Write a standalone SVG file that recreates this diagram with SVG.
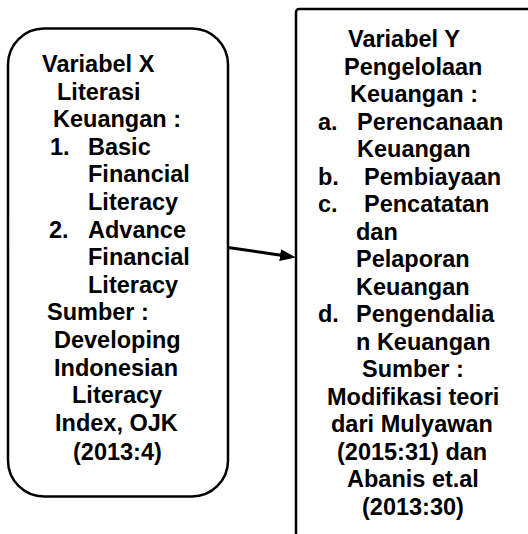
<svg xmlns="http://www.w3.org/2000/svg" width="528" height="534" viewBox="0 0 528 534">
<style>
.box{fill:#fff;stroke:#000;stroke-width:2.5}
.t{font-family:"Liberation Sans",Arial,sans-serif;font-weight:bold;font-size:23.5px;fill:#000}
.c{stroke:#000;stroke-width:3;fill:none}
</style>
<defs>
<marker id="ah" markerUnits="userSpaceOnUse" viewBox="0 0 16 12" markerWidth="16" markerHeight="12" refX="8" refY="6" orient="auto">
<path d="M0,0 L16,6 L0,12 z" fill="#000"/>
</marker>
</defs>
<rect width="528" height="534" fill="#fff"/>
<g id="nodeX">
<rect class="box" x="8" y="28.5" width="220" height="468" rx="36" ry="36"/>
<text class="t">
<tspan x="42" y="72">Variabel X</tspan>
<tspan x="57" y="99.6">Literasi</tspan>
<tspan x="53" y="127.2">Keuangan :</tspan>
<tspan x="50" y="154.8">1.</tspan><tspan x="88" y="154.8">Basic</tspan>
<tspan x="88" y="182.4">Financial</tspan>
<tspan x="88" y="210">Literacy</tspan>
<tspan x="49" y="237.6">2.</tspan><tspan x="88" y="237.6">Advance</tspan>
<tspan x="88" y="265.2">Financial</tspan>
<tspan x="88" y="292.8">Literacy</tspan>
<tspan x="47" y="320.4">Sumber :</tspan>
<tspan x="54" y="348">Developing</tspan>
<tspan x="54" y="375.6">Indonesian</tspan>
<tspan x="72" y="403.2">Literacy</tspan>
<tspan x="55" y="430.8">Index, OJK</tspan>
<tspan x="73" y="459.5">(2013:4)</tspan>
</text>
</g>
<g id="nodeY">
<rect class="box" x="296" y="9" width="260" height="560" rx="3" ry="3"/>
<text class="t">
<tspan x="348" y="47">Variabel Y</tspan>
<tspan x="344" y="74.5">Pengelolaan</tspan>
<tspan x="350" y="102">Keuangan :</tspan>
<tspan x="318" y="129.5">a.</tspan><tspan x="357" y="129.5">Perencanaan</tspan>
<tspan x="357" y="157">Keuangan</tspan>
<tspan x="318" y="184.5">b.</tspan><tspan x="364" y="184.5">Pembiayaan</tspan>
<tspan x="318" y="212">c.</tspan><tspan x="364" y="212">Pencatatan</tspan>
<tspan x="356" y="239.5">dan</tspan>
<tspan x="356" y="267">Pelaporan</tspan>
<tspan x="356" y="294.5">Keuangan</tspan>
<tspan x="318" y="322">d.</tspan><tspan x="356" y="322">Pengendalia</tspan>
<tspan x="356" y="349.5">n Keuangan</tspan>
<tspan x="362" y="377">Sumber :</tspan>
<tspan x="327" y="404.5">Modifikasi teori</tspan>
<tspan x="331" y="432">dari Mulyawan</tspan>
<tspan x="337" y="459.5">(2015:31) dan</tspan>
<tspan x="347" y="487">Abanis et.al</tspan>
<tspan x="362" y="514.5">(2013:30)</tspan>
</text>
</g>
<g id="connectors">
<line class="c" x1="228" y1="247.5" x2="288" y2="256.3" marker-end="url(#ah)"/>
</g>
</svg>
